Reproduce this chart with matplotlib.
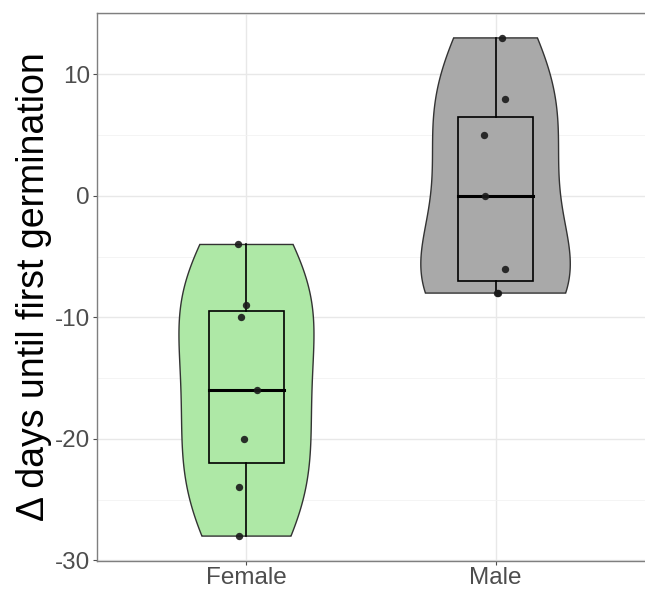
import numpy as np
import matplotlib
matplotlib.use("Agg")
import matplotlib.pyplot as plt

plt.rcParams['font.family'] = ['Liberation Sans', 'DejaVu Sans']
plt.rcParams['axes.unicode_minus'] = False

groups = ["Female", "Male"]
female = np.array([-4, -9, -10, -16, -20, -24, -28])
male = np.array([13, 8, 5, 0, -6, -8, -8])
# horizontal jitter of the points
female_jit = np.array([-0.035, 0.0, -0.02, 0.043, -0.011, -0.03, -0.03])
male_jit = np.array([0.026, 0.038, -0.045, -0.042, 0.038, 0.004, 0.01])
fills = ["#aee8a6", "#a9a9a9"]
data = [female, male]
jits = [female_jit, male_jit]


def nrd0(x):
    sd = np.std(x, ddof=1)
    iqr = np.subtract(*np.percentile(x, [75, 25]))
    lo = min(sd, iqr / 1.34)
    return 0.9 * lo * len(x) ** (-0.2)


def kde(x, grid):
    bw = nrd0(x)
    z = (grid[:, None] - x[None, :]) / bw
    return np.exp(-0.5 * z ** 2).sum(axis=1) / (len(x) * bw * np.sqrt(2 * np.pi))


grids = [np.linspace(d.min(), d.max(), 512) for d in data]
dens = [kde(d, g) for d, g in zip(data, grids)]
dmax = max(d.max() for d in dens)

fig = plt.figure(figsize=(6.45, 5.9), dpi=100)
ax = fig.add_axes([97 / 645, 29 / 590, 548 / 645, 548 / 590])

for i, (d, g, de, jit, fc) in enumerate(zip(data, grids, dens, jits, fills)):
    pos = i + 1
    half = 0.3 * de / dmax
    xs = np.concatenate([pos - half, (pos + half)[::-1]])
    ys = np.concatenate([g, g[::-1]])
    ax.fill(xs, ys, facecolor=fc, edgecolor="#333333", lw=1.0, zorder=2)
    q1, med, q3 = np.percentile(d, [25, 50, 75])
    ax.plot([pos, pos], [d.min(), q1], color="black", lw=1.2, zorder=3)
    ax.plot([pos, pos], [q3, d.max()], color="black", lw=1.2, zorder=3)
    ax.add_patch(plt.Rectangle((pos - 0.152, q1), 0.304, q3 - q1,
                               facecolor="none", edgecolor="black", lw=1.2, zorder=3))
    ax.plot([pos - 0.152, pos + 0.152], [med, med], color="black", lw=2.2, zorder=3)
    ax.scatter(pos + jit, d, s=28, color="#1a1a1a", alpha=0.9, zorder=4, linewidths=0)

ax.set_xlim(0.4, 2.6)
ax.set_ylim(-30.05, 15.05)
ax.set_xticks([1, 2])
ax.set_xticklabels(groups)
ax.set_yticks([-30, -20, -10, 0, 10])
ax.set_yticks([-25, -15, -5, 5, 15], minor=True)
ax.grid(True, which="major", color="#e8e8e8", lw=1.0, zorder=0)
ax.grid(True, which="minor", axis="y", color="#f2f2f2", lw=0.6, zorder=0)
ax.set_axisbelow(True)
ax.tick_params(axis="both", which="major", labelsize=17.5, labelcolor="#4d4d4d",
               color="#4d4d4d", length=3, width=0.8, pad=2)
ax.tick_params(axis="x", which="major", pad=1)
ax.tick_params(axis="y", which="minor", length=0)
for s in ["left", "bottom", "top"]:
    ax.spines[s].set_color("#7f7f7f")
    ax.spines[s].set_linewidth(1.0)
ax.spines["right"].set_visible(False)
ax.set_ylabel("Δ days until first germination", fontsize=27, color="black", labelpad=2)

fig.savefig("out.png", dpi=100)
